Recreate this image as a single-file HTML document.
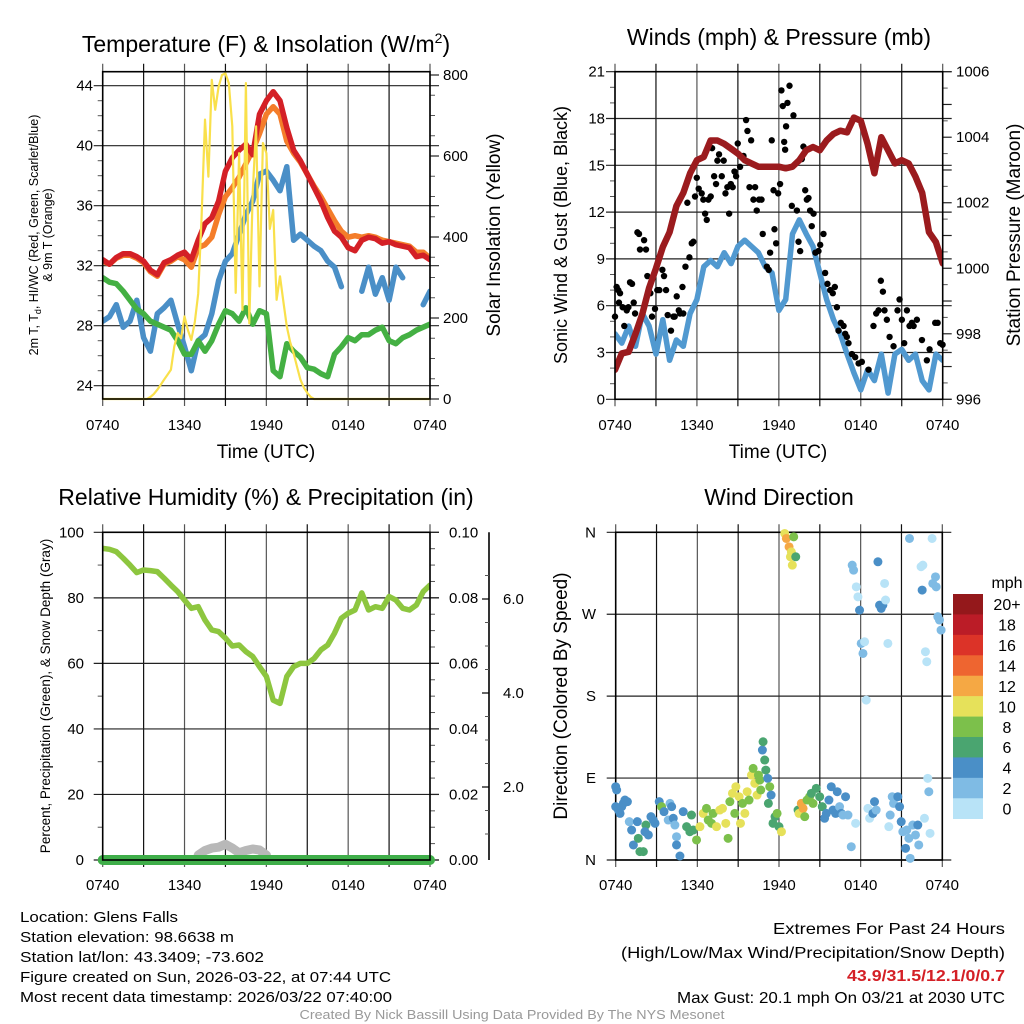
<!DOCTYPE html>
<html><head><meta charset="utf-8">
<style>
html,body{margin:0;padding:0;background:#fff;}
svg{display:block;font-family:"Liberation Sans",Arial,sans-serif;}
</style></head>
<body>
<svg id="chart" width="1024" height="1024" viewBox="0 0 1024 1024" xmlns="http://www.w3.org/2000/svg">
<rect x="0" y="0" width="1024" height="1024" fill="#fff"/>
<text x="266" y="52" font-size="23" text-anchor="middle">Temperature (F) &amp; Insolation (W/m<tspan font-size="14" dy="-9">2</tspan><tspan dy="9">)</tspan></text>
<text x="779" y="45" font-size="23" text-anchor="middle">Winds (mph) &amp; Pressure (mb)</text>
<text x="266" y="505" font-size="23" text-anchor="middle">Relative Humidity (%) &amp; Precipitation (in)</text>
<text x="779" y="505" font-size="23" text-anchor="middle">Wind Direction</text>
<g id="layer"></g>
<g font-size="15">
<text x="20" y="922" textLength="158" lengthAdjust="spacingAndGlyphs">Location: Glens Falls</text>
<text x="20" y="942" textLength="214" lengthAdjust="spacingAndGlyphs">Station elevation: 98.6638 m</text>
<text x="20" y="962" textLength="244" lengthAdjust="spacingAndGlyphs">Station lat/lon: 43.3409; -73.602</text>
<text x="20" y="982" textLength="371" lengthAdjust="spacingAndGlyphs">Figure created on Sun, 2026-03-22, at 07:44 UTC</text>
<text x="20" y="1002" textLength="372" lengthAdjust="spacingAndGlyphs">Most recent data timestamp: 2026/03/22 07:40:00</text>
</g>
<g font-size="16" text-anchor="end">
<text x="1005" y="934" textLength="232" lengthAdjust="spacingAndGlyphs">Extremes For Past 24 Hours</text>
<text x="1005" y="958" textLength="384" lengthAdjust="spacingAndGlyphs">(High/Low/Max Wind/Precipitation/Snow Depth)</text>
<text x="1005" y="981" fill="#d42026" font-weight="bold" textLength="158" lengthAdjust="spacingAndGlyphs">43.9/31.5/12.1/0/0.7</text>
<text x="1005" y="1003" textLength="328" lengthAdjust="spacingAndGlyphs">Max Gust: 20.1 mph On 03/21 at 2030 UTC</text>
</g>
<text x="512" y="1019" font-size="12.5" fill="#999" text-anchor="middle" textLength="425" lengthAdjust="spacingAndGlyphs">Created By Nick Bassill Using Data Provided By The NYS Mesonet</text>
</svg>
<script>
// ---------- data (half-hourly unless noted) ----------
const timeLabels = ["0740","1340","1940","0140","0740"];
const tempRed = [32.4,32.1,32.55,32.8,32.8,32.6,32.3,31.7,31.4,32.2,32.4,32.7,32.9,32.4,33.7,34.8,35.2,36.3,38.3,39.2,39.7,40.1,39.4,42.1,43.0,43.6,43.0,41.2,39.7,39.0,38.1,37.2,36.3,35.2,34.3,33.9,33.2,33.0,33.7,33.9,33.8,33.5,33.6,33.4,33.3,33.2,32.6,32.7,32.4];
const tempOrange = [32.3,32.1,32.5,32.7,32.7,32.5,32.2,31.6,31.3,32.1,32.3,32.6,32.4,31.9,33.2,33.4,33.9,35.4,36.6,37.2,37.9,38.8,39.7,40.8,42.1,42.6,42.1,40.3,39.5,38.9,38.1,37.3,36.6,35.8,35.0,34.3,33.9,34.0,33.9,34.0,33.9,33.7,33.6,33.5,33.4,33.3,32.9,32.9,32.5];
const tempBlue = [28.3,28.6,29.4,27.9,28.3,29.7,27.2,26.3,28.8,29.2,29.7,28.1,26.6,25.0,27.0,27.4,28.8,31.0,32.3,32.8,34.1,35.4,36.3,38.1,38.3,37.7,37.0,38.6,33.7,34.1,33.7,33.3,33.0,32.3,31.9,30.6,null,null,30.3,31.9,30.1,31.2,29.7,31.9,31.2,null,null,29.4,30.3];
const tempGreen = [31.2,30.9,30.8,30.3,29.7,29.1,28.8,28.3,28.1,27.9,27.7,27.0,26.1,26.1,27.0,26.3,27.0,28.1,29.0,28.8,28.3,29.2,28.1,29.0,28.8,25.0,24.6,26.8,26.3,25.9,25.2,25.1,24.8,24.6,26.1,26.6,27.2,27.0,27.4,27.4,27.7,27.9,27.0,26.8,27.2,27.4,27.7,27.9,28.1];
// quarter-hourly solar insolation (W/m2)
const solar = [0,0,0,0,0,0,0,0,0,0,0,0,0,0,5,12,23,35,48,60,72,130,163,150,204,170,146,190,260,450,690,549,788,714,771,800,804,780,673,262,607,220,780,187,508,673,278,632,607,420,467,245,303,240,179,140,113,80,48,28,15,5,0,0,0,0,0,0,0,0,0,0,0,0,0,0,0,0,0,0,0,0,0,0,0,0,0,0,0,0,0,0,0,0,0,0,0];
const windSpeed = [4.2,3.6,4.7,3.4,5.5,4.7,2.9,5.1,2.5,3.8,3.4,5.5,6.4,8.5,8.9,8.5,9.4,8.7,9.8,10.2,9.8,9.4,8.5,8.1,5.7,6.4,10.6,11.5,10.6,9.8,8.1,6.4,5.1,4.2,2.9,1.7,0.6,1.9,1.2,2.9,0.4,2.9,3.2,2.5,2.9,1.2,0.6,2.9,2.5];
const pressure = [996.9,997.4,997.45,998.0,998.6,999.4,1000.0,1000.65,1001.1,1001.9,1002.3,1002.9,1003.3,1003.4,1003.9,1003.9,1003.8,1003.65,1003.5,1003.3,1003.2,1003.1,1003.1,1003.1,1003.1,1003.05,1003.1,1003.3,1003.6,1003.7,1003.6,1003.9,1004.1,1004.2,1004.15,1004.6,1004.5,1003.8,1002.9,1004.0,1003.6,1003.2,1003.3,1003.2,1002.8,1002.3,1001.1,1000.8,1000.15];
const gustTimes = [0.0,0.12,0.24,0.37,0.29,0.56,0.68,0.86,0.98,1.1,1.25,1.37,1.47,1.64,1.76,1.83,2.13,2.27,2.37,2.47,2.59,2.71,2.93,3.1,3.25,3.47,3.59,3.74,3.86,4.1,4.28,4.37,4.52,4.67,4.76,4.94,5.0,5.16,5.3,5.45,5.62,5.74,5.86,5.99,6.13,6.35,6.47,6.6,6.72,6.84,7.01,7.11,7.26,7.4,7.5,7.62,7.82,7.96,8.09,8.23,8.36,8.48,8.62,8.75,8.87,8.99,9.16,9.41,9.6,9.7,9.85,9.97,10.14,10.26,10.38,10.55,10.73,10.82,11.12,11.26,11.36,11.48,11.61,11.68,11.8,11.95,12.09,12.19,12.29,12.39,12.46,12.53,12.63,12.78,12.95,13.07,13.32,13.44,13.56,13.68,13.8,13.93,14.05,14.17,14.29,14.41,14.54,14.68,14.9,15.03,15.27,15.39,15.56,15.76,15.95,16.1,16.25,16.37,16.54,16.74,16.86,16.98,17.1,17.35,17.59,17.84,18.08,18.57,18.93,19.13,19.3,19.47,19.62,19.74,19.91,20.11,20.4,20.69,20.84,21.01,21.18,21.38,21.57,21.74,21.87,22.11,22.48,22.84,23.04,23.45,23.63,23.82,23.99];
const gustValues = [5.3,7.2,7.0,6.8,6.2,5.9,4.7,5.7,5.9,7.5,7.4,6.2,5.5,10.7,10.6,9.6,10.2,9.6,7.9,7.0,6.8,5.3,5.8,7.0,7.0,8.3,7.9,7.0,5.4,4.4,5.3,5.3,6.6,5.7,5.5,7.2,5.5,8.5,12.6,9.1,10.0,10.1,13.0,14.2,13.5,13.2,12.8,11.9,11.5,12.8,13.0,16.1,14.3,13.8,15.3,15.7,14.3,15.3,13.2,13.6,11.9,13.8,13.6,14.6,14.3,16.4,14.9,15.6,17.9,17.2,13.6,16.6,12.8,13.6,12.1,12.8,12.8,10.6,8.5,8.3,9.4,16.6,13.4,10.9,10.0,13.2,13.8,19.8,18.8,16.5,16.0,17.5,19.0,20.1,12.4,18.2,12.1,10.1,9.5,15.4,16.2,13.4,12.8,12.9,12.1,11.1,11.9,9.4,9.5,9.9,10.6,8.1,7.4,7.0,6.8,7.2,5.9,4.4,4.9,4.7,4.2,4.0,3.6,2.9,2.7,2.3,2.4,1.9,4.7,5.5,5.7,7.6,6.9,5.7,5.1,4.0,3.4,5.7,6.4,5.1,3.6,5.7,4.7,4.9,4.7,5.1,3.8,2.5,3.2,4.9,4.9,3.6,3.5];
const relHumidity = [95.1,94.8,94.1,92.1,90.0,87.7,88.5,88.3,88.0,86.0,83.9,81.9,79.3,76.8,77.3,73.2,70.2,69.7,67.7,65.3,65.6,63.6,62.1,59.0,56.0,48.8,47.8,56.0,59.0,60.0,60.0,61.5,64.1,65.6,69.2,73.8,75.3,76.3,81.5,76.3,77.3,76.8,80.4,79.3,76.8,76.3,77.8,81.9,83.9];
const precip = [0,0,0,0,0,0,0,0,0,0,0,0,0,0,0,0,0,0,0,0,0,0,0,0,0,0,0,0,0,0,0,0,0,0,0,0,0,0,0,0,0,0,0,0,0,0,0,0,0];
const snowDepth = [null,null,null,null,null,null,null,null,null,null,null,null,null,null,0.55,0.65,0.7,0.72,0.78,0.7,0.6,0.65,0.68,0.66,0.55,null,null,null,null,null,null,null,null,null,null,null,null,null,null,null,null,null,null,null,null,null,null,null,null];
const dirTimes = [0.0,0.07,0.0,0.32,0.44,0.56,0.68,0.86,0.2,1.0,1.17,1.59,1.3,1.66,1.78,2.03,2.22,2.15,2.4,2.59,2.76,2.89,3.2,3.37,3.55,3.86,3.99,4.11,4.23,4.35,4.47,4.47,4.72,4.96,5.21,5.45,5.57,5.7,5.94,6.19,6.43,6.67,6.8,7.04,7.16,7.41,7.65,7.85,8.09,8.26,8.39,8.58,8.75,8.83,9.07,9.17,9.32,9.49,9.66,9.8,9.98,10.1,10.22,10.39,10.49,10.59,10.66,10.78,10.83,10.95,11.03,11.17,11.22,11.32,11.42,11.56,11.71,11.86,12.0,12.18,12.42,12.54,12.74,12.91,12.84,12.98,13.08,13.23,13.4,13.47,13.64,13.77,13.89,14.06,14.25,14.38,14.5,14.74,14.99,15.18,15.35,15.48,15.67,15.84,15.97,16.16,16.28,16.45,16.58,16.7,16.89,17.07,17.31,17.38,17.48,17.63,17.68,17.8,17.92,18.04,18.17,18.29,18.41,18.53,18.66,18.9,19.02,19.14,19.27,19.39,19.51,19.63,19.76,19.83,20.0,20.07,20.17,20.32,20.42,20.73,20.86,20.98,21.1,21.3,21.39,21.54,21.64,21.83,22.03,22.2,22.27,22.44,22.57,22.52,22.69,22.76,22.86,22.93,23.01,23.1,23.25,21.59,23.3,23.5,23.55,23.67,23.79,23.91];
const dirDegrees = [80.5,76.9,58.6,51.2,58.6,62.2,65.9,64.1,54.9,42.1,32.9,42.1,16.5,23.8,9.2,9.2,38.4,31.1,27.5,47.6,43.9,40.3,64.1,58.6,53.1,43.9,62.2,58.6,45.8,38.4,25.6,16.5,4.4,53.1,36.6,31.1,49.4,32.9,22.0,36.6,51.2,56.7,43.9,40.3,51.2,36.6,54.9,56.7,40.3,23.8,64.1,73.2,51.2,80.5,69.5,40.3,62.2,51.2,75.0,65.9,93.3,100.6,84.2,71.4,93.3,87.8,76.9,120.8,129.9,109.8,98.8,89.7,62.2,80.5,71.4,40.3,47.6,51.2,36.6,31.1,358.7,353.2,344.0,338.5,333.1,323.9,355.0,333.1,54.9,51.2,62.2,56.7,47.6,65.9,69.5,73.2,62.2,78.7,69.5,58.6,45.8,51.2,65.9,80.5,54.9,51.2,75.0,58.6,51.2,49.4,69.5,49.4,14.6,323.9,318.4,40.3,300.1,289.1,274.5,237.9,226.9,239.7,175.7,56.7,45.8,51.2,64.1,54.9,327.6,280.0,276.4,280.0,303.8,285.6,237.9,36.6,49.4,69.5,62.2,69.5,58.6,42.1,31.1,12.8,32.9,23.8,1.8,38.4,27.5,38.4,16.5,322.2,323.9,296.5,45.8,228.8,217.8,89.7,75.0,29.3,353.2,353.2,303.8,311.1,300.1,267.3,263.6,252.6];
const dirSpeeds = [5,5,5,5,5,5,5,5,5,3,5,5,5,7,7,7,7,5,5,5,5,5,5,9,5,3,3,5,5,3,3,5,5,5,7,7,7,7,9,11,11,9,9,9,9,11,11,11,11,9,9,11,9,11,11,11,9,11,11,9,11,9,11,11,9,9,9,5,7,7,7,5,7,9,5,7,7,9,7,11,11,13,13,11,11,11,9,7,7,11,13,13,9,9,9,7,9,7,7,7,5,5,5,5,5,5,5,3,5,3,5,3,3,3,3,1,1,1,5,3,3,1,1,1,1,5,5,3,5,5,5,5,1,1,1,1,3,3,3,5,5,5,3,5,3,3,3,3,3,5,3,1,1,5,1,1,1,1,3,1,1,3,3,3,3,3,3,3];
const speedBinLabels = ["20+","18","16","14","12","10","8","6","4","2","0"];
const speedBinColors = ["#94181b","#bb1c27","#dc3328","#ee6530","#f5a844","#e6e15a","#7cc04b","#4aa570","#4a8fc7","#7fbbe4","#b8e3f7"];

// ---------- drawing ----------
const NS="http://www.w3.org/2000/svg";
const layer=document.getElementById('layer');
function mk(tag,attrs,parent){const e=document.createElementNS(NS,tag);for(const k in attrs)e.setAttribute(k,attrs[k]);(parent||layer).appendChild(e);return e;}
function txt(s,attrs,parent){const e=mk('text',attrs,parent);e.textContent=s;return e;}
function linear(d0,d1,r0,r1){return v=>r0+(v-d0)/(d1-d0)*(r1-r0);}
function linePath(vals,step,xs,ys){let d='',pen=false;vals.forEach((v,i)=>{if(v===null){pen=false;return;}d+=(pen?'L':'M')+xs(i*step).toFixed(1)+','+ys(v).toFixed(1);pen=true;});return d;}
function speedColor(s){let idx=Math.min(10,Math.floor(s/2));return speedBinColors[10-idx];}

function panelFrame(name,B,xLabelY){
  const g=mk('g',{});
  
  
  const xs=linear(0,24,B.x0,B.x1);
  for(let h=0;h<=24;h+=3){
    const l=mk('line',{x1:xs(h),x2:xs(h),y1:B.y0-8,y2:B.y1+7,stroke:(h%6===0)?'#555':'#111','stroke-width':1.2},g);
    
    
  }
  timeLabels.forEach((s,i)=>{
    const t=txt(s,{x:xs(i*6),y:xLabelY,'font-size':15,'text-anchor':'middle'},g);
    
    
  });
  return {g,xs};
}
function hGrid(g,B,ys,vals,labels,minor,lx){
  vals.forEach((v,i)=>{
    const l=mk('line',{x1:B.x0-9,x2:B.x1+9,y1:ys(v),y2:ys(v),stroke:'#222','stroke-width':1.2},g);
    
    
    const t=txt(labels[i],{x:lx,y:ys(v)+5,'font-size':15,'text-anchor':'end'},g);
    
    
  });
  minor.forEach(v=>{mk('line',{x1:B.x0-5,x2:B.x0,y1:ys(v),y2:ys(v),stroke:'#555','stroke-width':1},g);});
}
function rightAxis(g,B,ys,major,labels,minor,lx){
  major.forEach((v,i)=>{
    mk('line',{x1:B.x1,x2:B.x1+9,y1:ys(v),y2:ys(v),stroke:'#222','stroke-width':1.2},g);
    if(labels[i]!==''){const t=txt(labels[i],{x:lx,y:ys(v)+5,'font-size':15},g);
    
    }
  });
  minor.forEach(v=>{mk('line',{x1:B.x1,x2:B.x1+5,y1:ys(v),y2:ys(v),stroke:'#555','stroke-width':1},g);});
}
function box(g,B){const r=mk('rect',{x:B.x0,y:B.y0,width:B.x1-B.x0,height:B.y1-B.y0,fill:'none',stroke:'#000','stroke-width':1.6},g);}
function clip(id,B){const d=mk('clipPath',{id:id});mk('rect',{x:B.x0,y:B.y0-2,width:B.x1-B.x0,height:B.y1-B.y0+4},d);}
function rot(s,x,y,size,name){const t=txt(s,{x:x,y:y,'font-size':size,'text-anchor':'middle',transform:`rotate(-90 ${x} ${y})`});return t;}
function seriesPath(g,d,color,w,name,cp){const a={d:d,fill:'none',stroke:color,'stroke-width':w,'stroke-linejoin':'round','stroke-linecap':'round'};if(cp)a['clip-path']=`url(#${cp})`;const p=mk('path',a,g);return p;}

// Panel 1: temperature
(function(){
  const B={x0:102.7,x1:430,y0:71.7,y1:399};
  const {g,xs}=panelFrame('temperature-panel',B,430);
  const ys=linear(24,44,385.7,85.7);
  const ysol=linear(0,800,399,75);
  const mj=[24,28,32,36,40,44];
  hGrid(g,B,ys,mj,mj.map(String),[25,26,27,29,30,31,33,34,35,37,38,39,41,42,43],93);
  rightAxis(g,B,ysol,[0,200,400,600,800],['0','200','400','600','800'],[50,100,150,250,300,350,450,500,550,650,700,750],443);
  clip('c1',B);
  seriesPath(g,linePath(tempOrange,0.5,xs,ys),'#f47d2a',5.5,'orange-9m-temp-line','c1');
  seriesPath(g,linePath(tempRed,0.5,xs,ys),'#d42026',5.5,'red-2m-temp-line','c1');
  seriesPath(g,linePath(tempBlue,0.5,xs,ys),'#4a8fc7',5.5,'blue-hiwc-line','c1');
  seriesPath(g,linePath(tempGreen,0.5,xs,ys),'#44b043',5.5,'green-dewpoint-line','c1');
  seriesPath(g,linePath(solar,0.25,xs,ysol),'#f9e04b',2.2,'yellow-insolation-line','c1');
  box(g,B);
  txt('Time (UTC)',{x:266,y:458,'font-size':19,'text-anchor':'middle'},g);
  rot('2m T, T',38,235,12.5,'left-axis-title-line1').innerHTML='2m T, T<tspan font-size="9" dy="3">d</tspan><tspan dy="-3">, HI/WC (Red, Green, Scarlet/Blue)</tspan>';
  rot('& 9m T (Orange)',52,235,12.5,'left-axis-title-line2');
  rot('Solar Insolation (Yellow)',500,235,19,'right-axis-title');
})();

// Panel 2: winds & pressure
(function(){
  const B={x0:615,x1:942.7,y0:71.7,y1:399.3};
  const {g,xs}=panelFrame('winds-panel',B,430);
  const ys=linear(0,21,399.3,71.7);
  const yp=linear(996,1006,399.3,71.7);
  const mj=[0,3,6,9,12,15,18,21];
  hGrid(g,B,ys,mj,mj.map(String),[1,2,4,5,7,8,10,11,13,14,16,17,19,20],605);
  const pm=[996,997,998,999,1000,1001,1002,1003,1004,1005,1006];
  rightAxis(g,B,yp,pm,pm.map(v=>v%2===0?String(v):''),[996.5,997.5,998.5,999.5,1000.5,1001.5,1002.5,1003.5,1004.5,1005.5],956);
  clip('c2',B);
  seriesPath(g,linePath(windSpeed,0.5,xs,ys),'#5199d0',5.5,'sonic-wind-line','c2');
  gustTimes.forEach((t,i)=>{
    const c=mk('circle',{cx:xs(t),cy:ys(gustValues[i]),r:3.2,fill:'#000'},g);
    
    
  });
  seriesPath(g,linePath(pressure,0.5,xs,yp),'#9b1b1e',6.5,'pressure-line','c2');
  box(g,B);
  txt('Time (UTC)',{x:778,y:458,'font-size':19,'text-anchor':'middle'},g);
  rot('Sonic Wind & Gust (Blue, Black)',567,235,18,'left-axis-title');
  rot('Station Pressure (Maroon)',1020,235,19,'right-axis-title');
})();

// Panel 3: humidity & precipitation
(function(){
  const B={x0:102.7,x1:430,y0:532.3,y1:860};
  const {g,xs}=panelFrame('humidity-panel',B,890);
  const ys=linear(0,100,860,532.3);
  const yr=linear(0,0.10,860,532.3);
  const ysn=linear(0,6,881,599);
  const mj=[0,20,40,60,80,100];
  hGrid(g,B,ys,mj,mj.map(String),[10,30,50,70,90],84);
  rightAxis(g,B,yr,[0,0.02,0.04,0.06,0.08,0.10],['0.00','0.02','0.04','0.06','0.08','0.10'],[0.005,0.01,0.015,0.025,0.03,0.035,0.045,0.05,0.055,0.065,0.07,0.075,0.085,0.09,0.095],449);
  const sa=mk('line',{x1:489,x2:489,y1:532.3,y2:860,stroke:'#000','stroke-width':1.6},g);
  
  
  [2,4,6].forEach(v=>{mk('line',{x1:482,x2:489,y1:ysn(v),y2:ysn(v),stroke:'#000','stroke-width':1.2},g);
    const t=txt(v.toFixed(1),{x:503,y:ysn(v)+5,'font-size':15},g);});
  [1,1.5,2.5,3,3.5,4.5,5,5.5,6.5].forEach(v=>mk('line',{x1:485,x2:489,y1:ysn(v),y2:ysn(v),stroke:'#555'},g));
  clip('c3',B);
  seriesPath(g,linePath(snowDepth,0.5,xs,ysn),'#b8b8b8',9,'snow-depth-line',null);
  seriesPath(g,linePath(precip,0.5,xs,yr),'#3fae49',10,'precipitation-line',null);
  seriesPath(g,linePath(relHumidity,0.5,xs,ys),'#8dc63f',5.5,'relative-humidity-line','c3');
  box(g,B);
  rot('Percent, Precipitation (Green), & Snow Depth (Gray)',50,696,13.5,'left-axis-title');
})();

// Panel 4: wind direction
(function(){
  const B={x0:615.7,x1:942.3,y0:532.3,y1:860};
  const {g,xs}=panelFrame('wind-direction-panel',B,890);
  const ys=linear(0,360,860,532.3);
  hGrid(g,B,ys,[0,90,180,270,360],['N','E','S','W','N'],[],596);
  box(g,B);
  dirTimes.forEach((t,i)=>{
    const c=mk('circle',{cx:xs(t),cy:ys(dirDegrees[i]),r:4.5,fill:speedColor(dirSpeeds[i])},g);
    
    
  });
  rot('Direction (Colored By Speed)',567,696,19,'left-axis-title');
  const lg=mk('g',{},g);
  
  
  const cb0=594,ch=(818.7-594)/11;
  speedBinColors.forEach((c,i)=>{
    const r=mk('rect',{x:953,y:cb0+i*ch,width:30,height:ch+0.3,fill:c},lg);
    
    
    const t=txt(speedBinLabels[i],{x:1007,y:cb0+i*ch+ch/2+6,'font-size':16,'text-anchor':'middle'},lg);
    
    
  });
  txt('mph',{x:1007,y:588,'font-size':16,'text-anchor':'middle'},lg);
})();
</script>
</body></html>
